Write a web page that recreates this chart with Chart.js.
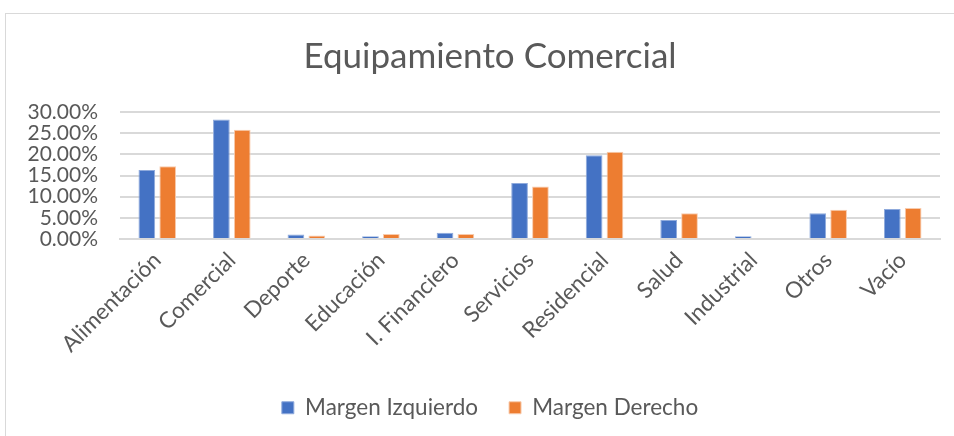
<!DOCTYPE html>
<html>
<head>
<meta charset="utf-8">
<script src="https://cdn.jsdelivr.net/npm/chart.js@4/dist/chart.umd.min.js"></script>
<style>
  html, body { margin: 0; padding: 0; background: #ffffff; overflow: hidden; }
  #wrap { position: relative; width: 954px; height: 436px; overflow: hidden; }
  #chart { position: absolute; left: 0; top: 0; }
</style>
</head>
<body>
<div id="wrap"><canvas id="chart" width="980" height="436"></canvas></div>
<script>
// Share of commercial equipment by use, left and right street margins (%)
const categories = ['Alimentación', 'Comercial', 'Deporte', 'Educación', 'I. Financiero',
  'Servicios', 'Residencial', 'Salud', 'Industrial', 'Otros', 'Vacío'];
const margenIzquierdo = [16.3, 28.2, 1.05, 0.65, 1.45, 13.2, 19.8, 4.5, 0.65, 6.1, 7.1];
const margenDerecho   = [17.2, 25.8, 0.8, 1.2, 1.2, 12.4, 20.6, 6.1, 0, 6.9, 7.3];
const yTicks = [0, 5, 10, 15, 20, 25, 30];

const FONT = 'Lato, "Open Sans", sans-serif';
const TEXT = '#595959';
const GRID = '#d9d9d9';

// Light frame around the whole chart object
const framePlugin = {
  id: 'frame',
  beforeDraw(chart) {
    const ctx = chart.ctx;
    ctx.save();
    ctx.fillStyle = '#ffffff';
    ctx.fillRect(0, 0, chart.width, chart.height);
    ctx.strokeStyle = GRID;
    ctx.lineWidth = 1;
    ctx.strokeRect(5.5, 13.5, chart.width + 20, chart.height + 20);
    ctx.restore();
  }
};

new Chart(document.getElementById('chart'), {
  type: 'bar',
  data: {
    labels: categories,
    datasets: [
      {
        label: 'Margen Izquierdo',
        data: margenIzquierdo,
        backgroundColor: '#4472c4',
        borderColor: '#8faadc',
        borderWidth: 1,
        borderSkipped: 'bottom'
      },
      {
        label: 'Margen Derecho',
        data: margenDerecho,
        backgroundColor: '#ed7d31',
        borderColor: '#f8cbad',
        borderWidth: 1,
        borderSkipped: 'bottom'
      }
    ]
  },
  options: {
    responsive: false,
    animation: false,
    devicePixelRatio: 1,
    datasets: {
      bar: { categoryPercentage: 0.56, barPercentage: 0.8 }
    },
    layout: { padding: { left: 0, right: 0, top: 0, bottom: 7 } },
    plugins: {
      title: {
        display: true,
        text: 'Equipamiento Comercial',
        color: TEXT,
        font: { family: FONT, size: 35, weight: 'normal' },
        padding: { top: 36, bottom: 34 }
      },
      legend: {
        display: true,
        position: 'bottom',
        labels: {
          color: TEXT,
          font: { family: FONT, size: 22.5 },
          boxWidth: 12,
          boxHeight: 12,
          padding: 31
        }
      },
      tooltip: { enabled: false }
    },
    scales: {
      x: {
        grid: { display: false, drawTicks: false },
        border: { display: true, color: GRID, width: 2 },
        ticks: {
          color: TEXT,
          font: { family: FONT, size: 22.5 },
          maxRotation: 45,
          minRotation: 45,
          autoSkip: false,
          padding: 8
        },
        afterFit(scale) { scale.height = 126.5; }
      },
      y: {
        min: 0,
        max: 30,
        afterBuildTicks(scale) { scale.ticks = yTicks.map(v => ({ value: v })); },
        grid: { color: GRID, lineWidth: 2, drawTicks: false },
        border: { display: false },
        ticks: {
          color: TEXT,
          font: { family: FONT, size: 21 },
          padding: 22,
          autoSkip: false,
          callback: v => v.toFixed(2) + '%'
        },
        afterFit(scale) { scale.width = 120; }
      },
      // empty right-hand margin inside the chart frame
      yRight: {
        position: 'right',
        display: true,
        grid: { display: false, drawOnChartArea: false },
        border: { display: false },
        ticks: { display: false },
        afterFit(scale) { scale.width = 40; }
      }
    }
  },
  plugins: [framePlugin]
});
</script>
</body>
</html>
